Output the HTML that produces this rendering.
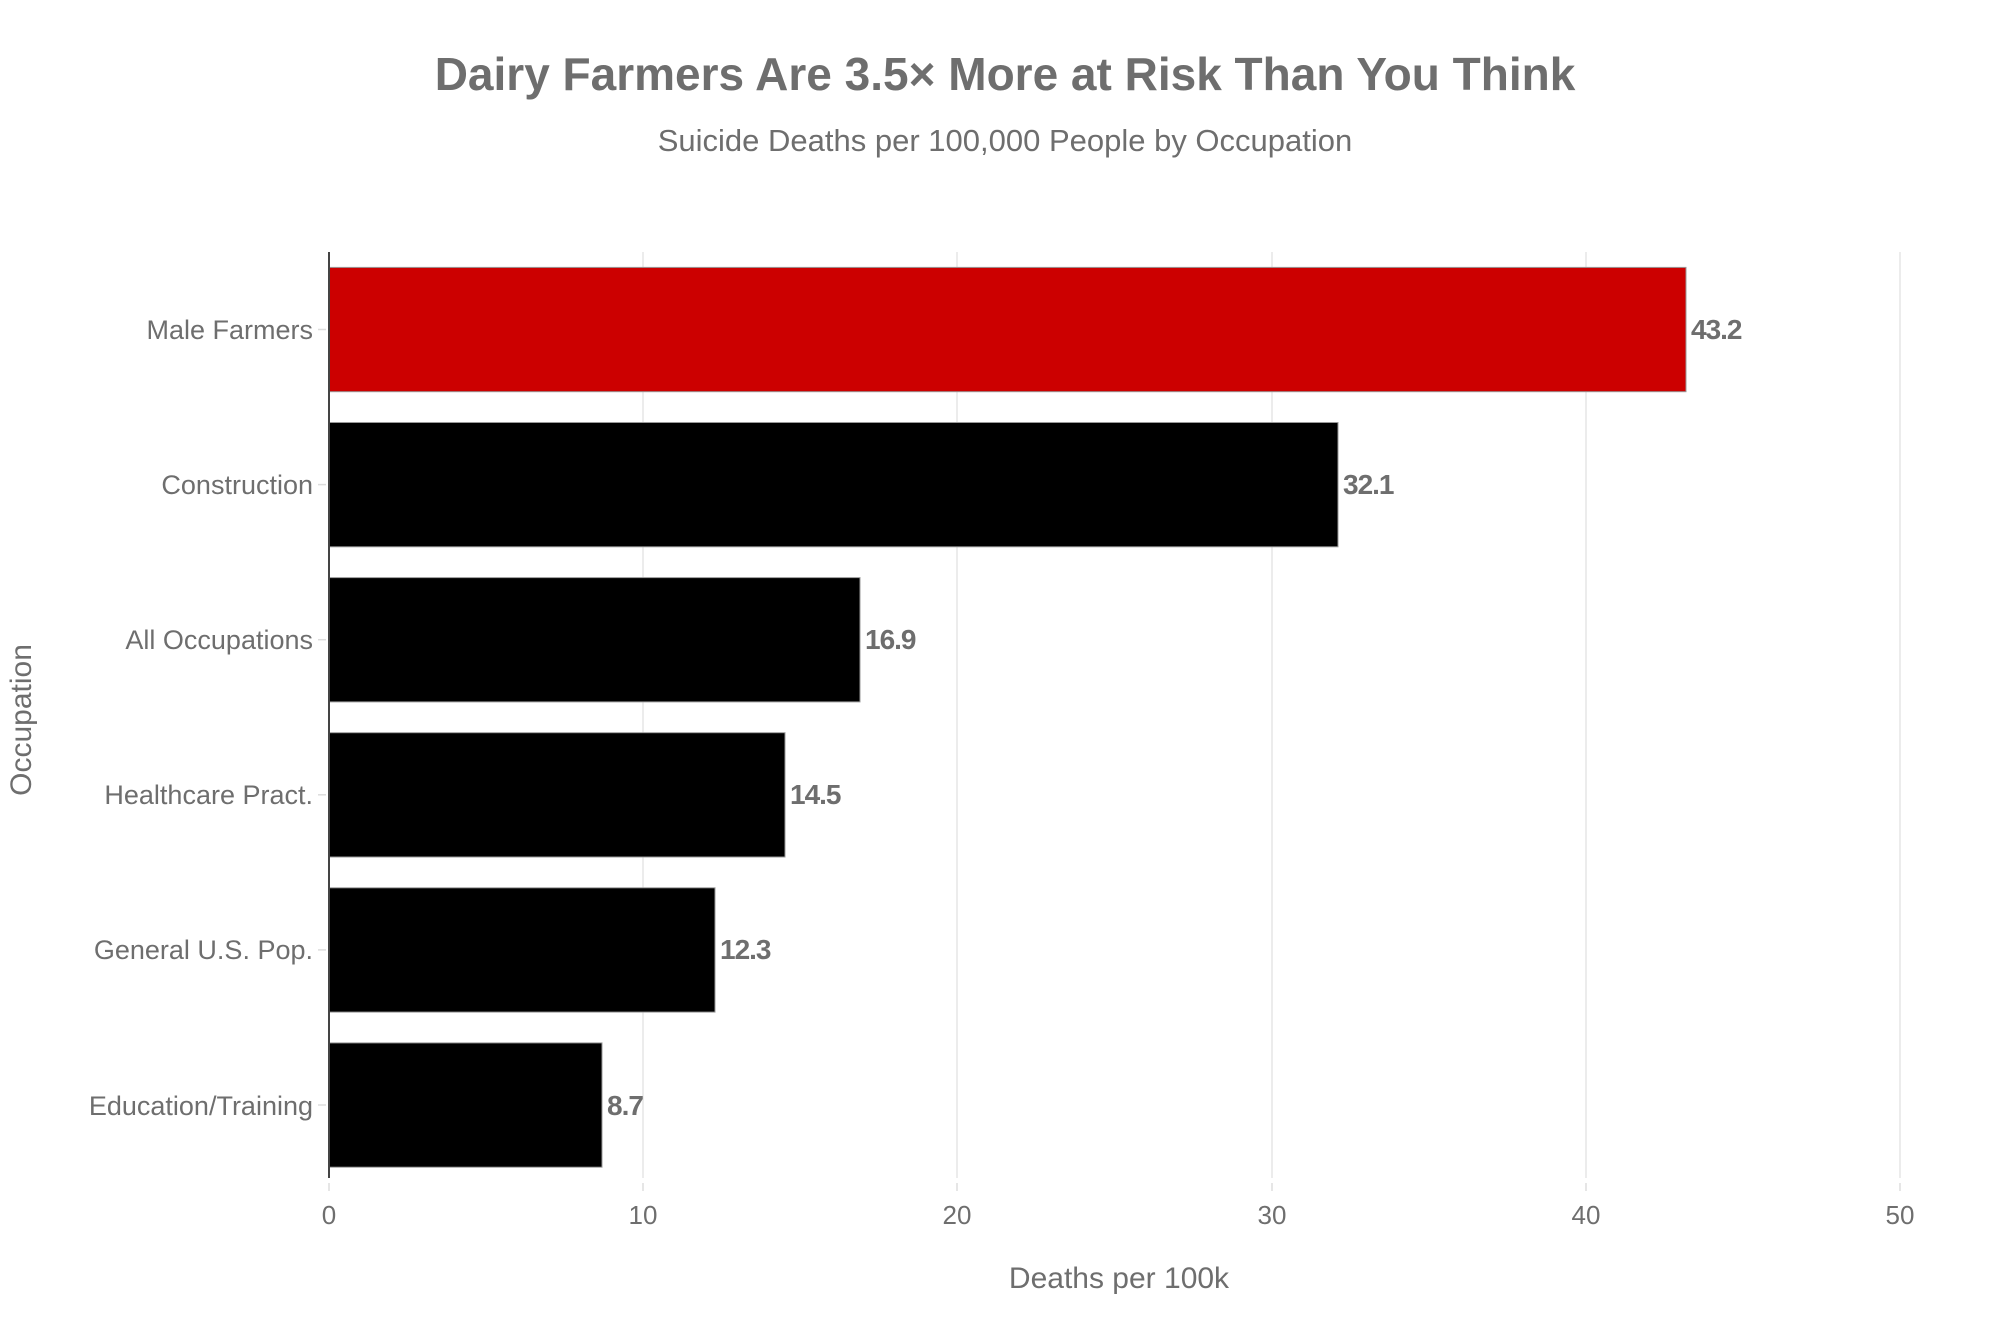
<!DOCTYPE html>
<html><head><meta charset="utf-8"><style>
body{margin:0;background:#fff;}
svg text{font-family:"Liberation Sans",sans-serif;fill:#6e6e6e;}
</style></head><body>
<svg width="2000" height="1333" viewBox="0 0 2000 1333" xmlns="http://www.w3.org/2000/svg">
<text x="1005" y="90" font-size="46" font-weight="bold" text-anchor="middle" fill="#6e6e6e">Dairy Farmers Are 3.5× More at Risk Than You Think</text>
<text x="1005" y="151" font-size="31" text-anchor="middle">Suicide Deaths per 100,000 People by Occupation</text>
<g stroke="#e6e6e6" stroke-width="1.5">
<line x1="643" y1="252" x2="643" y2="1178"/><line x1="957" y1="252" x2="957" y2="1178"/>
<line x1="1272" y1="252" x2="1272" y2="1178"/><line x1="1586" y1="252" x2="1586" y2="1178"/>
<line x1="1900" y1="252" x2="1900" y2="1178"/>
</g>
<g stroke="#ddd" stroke-width="1.5">
<line x1="329" y1="1183" x2="329" y2="1191"/><line x1="643" y1="1183" x2="643" y2="1191"/><line x1="957" y1="1183" x2="957" y2="1191"/><line x1="1272" y1="1183" x2="1272" y2="1191"/><line x1="1586" y1="1183" x2="1586" y2="1191"/><line x1="1900" y1="1183" x2="1900" y2="1191"/>
<line x1="318" y1="329.5" x2="326" y2="329.5"/><line x1="318" y1="484.6" x2="326" y2="484.6"/><line x1="318" y1="639.7" x2="326" y2="639.7"/><line x1="318" y1="794.8" x2="326" y2="794.8"/><line x1="318" y1="949.9" x2="326" y2="949.9"/><line x1="318" y1="1105" x2="326" y2="1105"/>
</g>
<g stroke="#999" stroke-width="1">
<rect x="329" y="267.4" width="1357" height="124.3" fill="#cc0000"/>
<rect x="329" y="422.5" width="1009" height="124.3" fill="#000"/>
<rect x="329" y="577.6" width="531" height="124.3" fill="#000"/>
<rect x="329" y="732.7" width="456" height="124.3" fill="#000"/>
<rect x="329" y="887.8" width="386" height="124.3" fill="#000"/>
<rect x="329" y="1042.9" width="273" height="124.3" fill="#000"/>
</g>
<line x1="329" y1="252" x2="329" y2="1178" stroke="#444" stroke-width="2"/>
<g font-size="28" font-weight="bold" letter-spacing="-1">
<text x="1691" y="339">43.2</text><text x="1343" y="494">32.1</text><text x="865" y="649">16.9</text>
<text x="790" y="804">14.5</text><text x="720" y="959">12.3</text><text x="607" y="1115">8.7</text>
</g>
<g font-size="27" text-anchor="end">
<text x="313" y="339">Male Farmers</text><text x="313" y="494">Construction</text><text x="313" y="649">All Occupations</text>
<text x="313" y="804">Healthcare Pract.</text><text x="313" y="959">General U.S. Pop.</text><text x="313" y="1115">Education/Training</text>
</g>
<g font-size="26" text-anchor="middle">
<text x="329" y="1224">0</text><text x="643" y="1224">10</text><text x="957" y="1224">20</text>
<text x="1272" y="1224">30</text><text x="1586" y="1224">40</text><text x="1900" y="1224">50</text>
</g>
<text x="1119" y="1288" font-size="30" text-anchor="middle">Deaths per 100k</text>
<text transform="translate(31,720) rotate(-90)" font-size="30" text-anchor="middle">Occupation</text>
</svg>
</body></html>
